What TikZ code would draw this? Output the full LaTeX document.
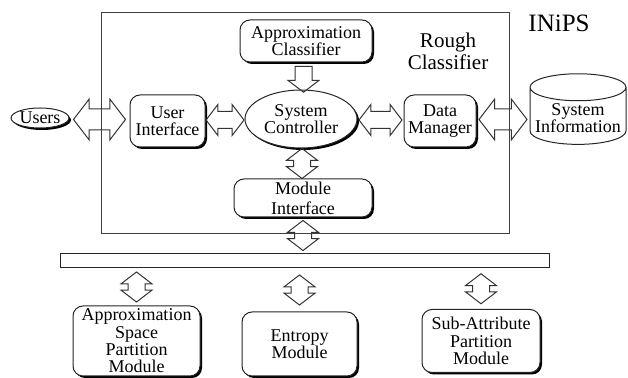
\documentclass[tikz,border=0pt]{standalone}
\usepackage{fontspec}
\setmainfont{Liberation Serif}
\usetikzlibrary{positioning,shapes.geometric,shapes.arrows,shadows,calc}

\begin{document}
\begin{tikzpicture}[
  x=0.5pt, y=-0.5pt,
  font=\fontsize{9}{8.7}\selectfont,
  line width=0.5pt,
  box/.style={draw=black!85, fill=white, rounded corners=5pt, align=center,
              inner sep=1pt,
              drop shadow={shadow xshift=1pt, shadow yshift=-1pt,
                           fill=black, opacity=1}},
  oval/.style={box, ellipse, sharp corners},
  darr/.style={double arrow, draw=black!80, inner sep=4pt,
               double arrow head extend=3.5pt, double arrow tip angle=105},
  bigdarr/.style={darr, inner sep=5pt, double arrow head extend=5pt},
  sarr/.style={single arrow, draw=black!80, inner sep=4pt,
               single arrow head extend=3.5pt, single arrow tip angle=105},
  frame/.style={draw=black!75, line width=0.4pt},
]
\useasboundingbox (0,0) rectangle (628,378);

% rough classifier
\draw[frame] (101,12) rectangle (509,233);
\node[font=\fontsize{12.5}{14}\selectfont] (inips) at (559,23) {INiPS};
\node[align=center, font=\fontsize{10.5}{11}\selectfont]
  (rough) at (448,51) {Rough\\Classifier};

\node[box, minimum width=66pt, minimum height=21pt]
  (apprCl) at (306,41) {Approximation\\Classifier};
\node[oval, minimum width=56pt, minimum height=29pt]
  (sysCtrl) at (301,119) {System\\Controller};
\node[box, minimum width=37.5pt, minimum height=26pt]
  (userIf) at (167.5,121) {User\\Interface};
\node[box, minimum width=36pt, minimum height=26pt]
  (dataMgr) at (440,121) {Data\\Manager};
\node[box, minimum width=69pt, minimum height=19pt,
      font=\fontsize{9}{10}\selectfont]
  (modIf) at (303,198) {Module\\Interface};

% outside
\node[oval, minimum width=28pt, minimum height=10pt, inner sep=0pt]
  (users) at (40,118) {Users};
\node[cylinder, draw=black!85, shape border rotate=90, aspect=0.3,
      minimum width=48pt, minimum height=34.5pt, align=center, inner sep=1pt]
  (sysInfo) at (578,118) {System\\Information};

% bus
\node[draw=black!85, minimum width=244.5pt, minimum height=7pt, inner sep=0pt]
  (bus) at (304.5,261) {};

% modules
\node[box, minimum width=63.5pt, minimum height=35pt]
  (aspm) at (136.5,341) {Approximation\\Space\\Partition\\Module};
\node[box, minimum width=57.5pt, minimum height=32pt]
  (entropy) at (299.5,344) {Entropy\\Module};
\node[box, minimum width=59pt, minimum height=31.5pt]
  (subAttr) at (481,341) {Sub-Attribute\\Partition\\Module};

% block arrows
\node[bigdarr, minimum height=26pt]
  (usersArr) at ($(users.east)!0.5!(userIf.west)$) {};
\node[darr, minimum height=19pt]
  (uiArr) at ($(userIf.east)!0.5!(sysCtrl.west)$) {};
\node[darr, minimum height=21.5pt]
  (dmArr) at ($(sysCtrl.east)!0.5!(dataMgr.west)$) {};
\node[bigdarr, minimum height=24pt]
  (siArr) at ($(dataMgr.east)!0.5!(sysInfo.west)$) {};
\node[sarr, rotate=-90, minimum height=13pt]
  (acArr) at ($(apprCl.south)!0.5!(sysCtrl.north)$) {};
\node[darr, rotate=90, minimum height=14pt]
  (miArr) at ($(sysCtrl.south)!0.5!(modIf.north)$) {};
\node[darr, rotate=90, minimum height=15pt]
  (busArr) at ($(modIf.south)!0.5!(bus.north -| modIf.south)$) {};
\foreach \m in {aspm,entropy,subAttr}
  \node[darr, rotate=90, minimum height=15pt]
    (\m Arr) at ($(bus.south -| \m.north)!0.5!(\m.north)$) {};

\end{tikzpicture}
\end{document}
